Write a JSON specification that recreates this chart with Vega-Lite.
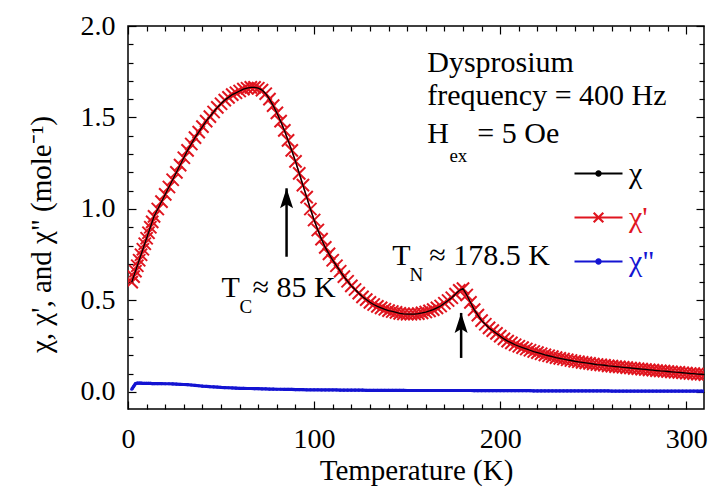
{
"$schema": "https://vega.github.io/schema/vega-lite/v6.json",
"width": 576, "height": 383,
"autosize": {"type": "none"},
"padding": {"left": 128, "top": 26, "right": 6, "bottom": 84},
"background": "white",
"config": {"view": {"stroke": "black", "strokeWidth": 1.5}, "font": "Liberation Serif"},
"datasets": {
"main": [
{"T":2,"chi":0.60,"chi1":0.60,"chi2":0.015},{"T":3,"chi":0.63,"chi1":0.63,"chi2":0.03},{"T":4,"chi":0.66,"chi1":0.66,"chi2":0.045},{"T":5,"chi":0.69,"chi1":0.69,"chi2":0.048},{"T":6,"chi":0.72,"chi1":0.72,"chi2":0.048},{"T":7,"chi":0.75,"chi1":0.75,"chi2":0.048},{"T":8,"chi":0.78,"chi1":0.78,"chi2":0.047},{"T":9,"chi":0.81,"chi1":0.81,"chi2":0.047},{"T":10,"chi":0.84,"chi1":0.84,"chi2":0.047},{"T":11,"chi":0.87,"chi1":0.87,"chi2":0.047},{"T":12,"chi":0.90,"chi1":0.90,"chi2":0.047},{"T":13,"chi":0.93,"chi1":0.93,"chi2":0.046},{"T":14,"chi":0.96,"chi1":0.96,"chi2":0.046},
{"T":16,"chi":1.00,"chi1":1.00,"chi2":0.046},{"T":18,"chi":1.04,"chi1":1.04,"chi2":0.046},{"T":20,"chi":1.08,"chi1":1.08,"chi2":0.045},{"T":22,"chi":1.12,"chi1":1.12,"chi2":0.045},{"T":24,"chi":1.16,"chi1":1.16,"chi2":0.044},{"T":26,"chi":1.20,"chi1":1.20,"chi2":0.043},{"T":28,"chi":1.24,"chi1":1.24,"chi2":0.042},{"T":30,"chi":1.28,"chi1":1.28,"chi2":0.041},{"T":32,"chi":1.32,"chi1":1.32,"chi2":0.04},{"T":34,"chi":1.355,"chi1":1.355,"chi2":0.038},{"T":36,"chi":1.39,"chi1":1.39,"chi2":0.036},{"T":38,"chi":1.42,"chi1":1.42,"chi2":0.034},{"T":40,"chi":1.45,"chi1":1.45,"chi2":0.032},{"T":42,"chi":1.48,"chi1":1.48,"chi2":0.031},{"T":44,"chi":1.505,"chi1":1.505,"chi2":0.029},{"T":46,"chi":1.53,"chi1":1.53,"chi2":0.028},{"T":48,"chi":1.555,"chi1":1.555,"chi2":0.027},{"T":50,"chi":1.575,"chi1":1.575,"chi2":0.025},{"T":52,"chi":1.595,"chi1":1.595,"chi2":0.024},{"T":54,"chi":1.61,"chi1":1.61,"chi2":0.023},{"T":56,"chi":1.625,"chi1":1.625,"chi2":0.022},{"T":58,"chi":1.635,"chi1":1.635,"chi2":0.021},{"T":60,"chi":1.645,"chi1":1.645,"chi2":0.02},{"T":62,"chi":1.655,"chi1":1.655,"chi2":0.02},{"T":64,"chi":1.66,"chi1":1.66,"chi2":0.019},{"T":66,"chi":1.665,"chi1":1.665,"chi2":0.019},{"T":68,"chi":1.665,"chi1":1.665,"chi2":0.018},{"T":70,"chi":1.66,"chi1":1.66,"chi2":0.018},{"T":72,"chi":1.65,"chi1":1.65,"chi2":0.017},{"T":74,"chi":1.63,"chi1":1.63,"chi2":0.017},{"T":76,"chi":1.60,"chi1":1.60,"chi2":0.016},{"T":78,"chi":1.565,"chi1":1.565,"chi2":0.016},{"T":80,"chi":1.525,"chi1":1.525,"chi2":0.015},{"T":82,"chi":1.48,"chi1":1.48,"chi2":0.015},{"T":84,"chi":1.43,"chi1":1.43,"chi2":0.014},{"T":86,"chi":1.375,"chi1":1.375,"chi2":0.014},{"T":88,"chi":1.32,"chi1":1.32,"chi2":0.014},{"T":90,"chi":1.26,"chi1":1.26,"chi2":0.013},{"T":92,"chi":1.195,"chi1":1.195,"chi2":0.013},{"T":94,"chi":1.13,"chi1":1.13,"chi2":0.013},{"T":96,"chi":1.065,"chi1":1.065,"chi2":0.012},{"T":98,"chi":1.00,"chi1":1.00,"chi2":0.012},{"T":100,"chi":0.94,"chi1":0.94,"chi2":0.012},{"T":102,"chi":0.885,"chi1":0.885,"chi2":0.012},{"T":104,"chi":0.835,"chi1":0.835,"chi2":0.011},{"T":106,"chi":0.79,"chi1":0.79,"chi2":0.011},{"T":108,"chi":0.755,"chi1":0.755,"chi2":0.011},{"T":110,"chi":0.72,"chi1":0.72,"chi2":0.011},{"T":112,"chi":0.69,"chi1":0.69,"chi2":0.011},{"T":114,"chi":0.66,"chi1":0.66,"chi2":0.01},{"T":116,"chi":0.63,"chi1":0.63,"chi2":0.01},{"T":118,"chi":0.605,"chi1":0.605,"chi2":0.01},{"T":120,"chi":0.58,"chi1":0.58,"chi2":0.01},{"T":122,"chi":0.56,"chi1":0.56,"chi2":0.01},{"T":124,"chi":0.54,"chi1":0.54,"chi2":0.01},{"T":126,"chi":0.52,"chi1":0.52,"chi2":0.01},{"T":128,"chi":0.505,"chi1":0.505,"chi2":0.009},{"T":130,"chi":0.49,"chi1":0.49,"chi2":0.009},{"T":132,"chi":0.478,"chi1":0.478,"chi2":0.009},{"T":134,"chi":0.468,"chi1":0.468,"chi2":0.009},{"T":136,"chi":0.46,"chi1":0.46,"chi2":0.009},{"T":138,"chi":0.452,"chi1":0.452,"chi2":0.009},{"T":140,"chi":0.445,"chi1":0.445,"chi2":0.009},{"T":142,"chi":0.44,"chi1":0.44,"chi2":0.009},{"T":144,"chi":0.435,"chi1":0.435,"chi2":0.009},{"T":146,"chi":0.43,"chi1":0.43,"chi2":0.009},{"T":148,"chi":0.427,"chi1":0.427,"chi2":0.009},{"T":150,"chi":0.425,"chi1":0.425,"chi2":0.008},{"T":152,"chi":0.425,"chi1":0.425,"chi2":0.008},{"T":154,"chi":0.426,"chi1":0.426,"chi2":0.008},{"T":156,"chi":0.428,"chi1":0.428,"chi2":0.008},{"T":158,"chi":0.432,"chi1":0.432,"chi2":0.008},{"T":160,"chi":0.437,"chi1":0.437,"chi2":0.008},{"T":162,"chi":0.443,"chi1":0.443,"chi2":0.008},{"T":164,"chi":0.45,"chi1":0.45,"chi2":0.008},{"T":166,"chi":0.46,"chi1":0.46,"chi2":0.008},{"T":168,"chi":0.47,"chi1":0.47,"chi2":0.008},{"T":170,"chi":0.485,"chi1":0.485,"chi2":0.008},{"T":172,"chi":0.50,"chi1":0.50,"chi2":0.008},{"T":174,"chi":0.515,"chi1":0.515,"chi2":0.008},{"T":176,"chi":0.535,"chi1":0.535,"chi2":0.008},{"T":178,"chi":0.555,"chi1":0.555,"chi2":0.008},{"T":180,"chi":0.565,"chi1":0.565,"chi2":0.008},{"T":182,"chi":0.53,"chi1":0.53,"chi2":0.008},{"T":184,"chi":0.49,"chi1":0.49,"chi2":0.008},{"T":186,"chi":0.45,"chi1":0.45,"chi2":0.007},{"T":188,"chi":0.42,"chi1":0.42,"chi2":0.007},{"T":190,"chi":0.39,"chi1":0.39,"chi2":0.007},{"T":192,"chi":0.37,"chi1":0.37,"chi2":0.007},{"T":194,"chi":0.35,"chi1":0.35,"chi2":0.007},{"T":196,"chi":0.335,"chi1":0.335,"chi2":0.007},{"T":198,"chi":0.32,"chi1":0.32,"chi2":0.007},{"T":200,"chi":0.305,"chi1":0.305,"chi2":0.007},{"T":202,"chi":0.29,"chi1":0.29,"chi2":0.007},{"T":204,"chi":0.278,"chi1":0.278,"chi2":0.007},{"T":206,"chi":0.268,"chi1":0.268,"chi2":0.007},{"T":208,"chi":0.258,"chi1":0.258,"chi2":0.007},{"T":210,"chi":0.25,"chi1":0.25,"chi2":0.007},{"T":212,"chi":0.242,"chi1":0.242,"chi2":0.007},{"T":214,"chi":0.235,"chi1":0.235,"chi2":0.007},{"T":216,"chi":0.228,"chi1":0.228,"chi2":0.007},{"T":218,"chi":0.221,"chi1":0.221,"chi2":0.006},{"T":220,"chi":0.215,"chi1":0.215,"chi2":0.006},{"T":222,"chi":0.209,"chi1":0.209,"chi2":0.006},{"T":224,"chi":0.203,"chi1":0.203,"chi2":0.006},{"T":226,"chi":0.198,"chi1":0.198,"chi2":0.006},{"T":228,"chi":0.193,"chi1":0.193,"chi2":0.006},{"T":230,"chi":0.188,"chi1":0.188,"chi2":0.006},{"T":232,"chi":0.184,"chi1":0.184,"chi2":0.006},{"T":234,"chi":0.18,"chi1":0.18,"chi2":0.006},{"T":236,"chi":0.176,"chi1":0.176,"chi2":0.006},{"T":238,"chi":0.172,"chi1":0.172,"chi2":0.006},{"T":240,"chi":0.168,"chi1":0.168,"chi2":0.006},{"T":242,"chi":0.165,"chi1":0.165,"chi2":0.006},{"T":244,"chi":0.162,"chi1":0.162,"chi2":0.006},{"T":246,"chi":0.159,"chi1":0.159,"chi2":0.006},{"T":248,"chi":0.156,"chi1":0.156,"chi2":0.006},{"T":250,"chi":0.153,"chi1":0.153,"chi2":0.006},{"T":252,"chi":0.15,"chi1":0.15,"chi2":0.006},{"T":254,"chi":0.148,"chi1":0.148,"chi2":0.006},{"T":256,"chi":0.146,"chi1":0.146,"chi2":0.006},{"T":258,"chi":0.143,"chi1":0.143,"chi2":0.006},{"T":260,"chi":0.141,"chi1":0.141,"chi2":0.005},{"T":262,"chi":0.139,"chi1":0.139,"chi2":0.005},{"T":264,"chi":0.137,"chi1":0.137,"chi2":0.005},{"T":266,"chi":0.135,"chi1":0.135,"chi2":0.005},{"T":268,"chi":0.133,"chi1":0.133,"chi2":0.005},{"T":270,"chi":0.131,"chi1":0.131,"chi2":0.005},{"T":272,"chi":0.129,"chi1":0.129,"chi2":0.005},{"T":274,"chi":0.127,"chi1":0.127,"chi2":0.005},{"T":276,"chi":0.125,"chi1":0.125,"chi2":0.005},{"T":278,"chi":0.123,"chi1":0.123,"chi2":0.005},{"T":280,"chi":0.121,"chi1":0.121,"chi2":0.005},{"T":282,"chi":0.119,"chi1":0.119,"chi2":0.005},{"T":284,"chi":0.117,"chi1":0.117,"chi2":0.005},{"T":286,"chi":0.115,"chi1":0.115,"chi2":0.005},{"T":288,"chi":0.114,"chi1":0.114,"chi2":0.005},{"T":290,"chi":0.112,"chi1":0.112,"chi2":0.005},{"T":292,"chi":0.11,"chi1":0.11,"chi2":0.005},{"T":294,"chi":0.108,"chi1":0.108,"chi2":0.005},{"T":296,"chi":0.107,"chi1":0.107,"chi2":0.005},{"T":298,"chi":0.105,"chi1":0.105,"chi2":0.005},{"T":300,"chi":0.103,"chi1":0.103,"chi2":0.005},{"T":302,"chi":0.101,"chi1":0.101,"chi2":0.005},{"T":304,"chi":0.1,"chi1":0.1,"chi2":0.005},{"T":306,"chi":0.098,"chi1":0.098,"chi2":0.005},{"T":308,"chi":0.097,"chi1":0.097,"chi2":0.005},{"T":310,"chi":0.095,"chi1":0.095,"chi2":0.005}
],
"big": [
{"T":160.8,"v":1.749,"label":"Dysprosium"},
{"T":160.8,"v":1.568,"label":"frequency = 400 Hz"},
{"T":160.8,"v":1.361,"label":"H"},
{"T":187.7,"v":1.361,"label":"= 5 Oe"},
{"T":50.2,"v":0.519,"label":"T"},
{"T":66.9,"v":0.519,"label":"≈ 85 K"},
{"T":142.0,"v":0.694,"label":"T"},
{"T":161.9,"v":0.694,"label":"≈ 178.5 K"}
],
"small": [
{"T":172.7,"v":1.257,"label":"ex"},
{"T":59.9,"v":0.432,"label":"C"},
{"T":151.2,"v":0.607,"label":"N"}
],
"arrows": [
{"T":85.2,"tail":0.739,"tip":1.113},
{"T":179.0,"tail":0.186,"tip":0.432}
]
},
"resolve": {"axis": {"x": "independent", "y": "independent"}},
"layer": [
{
"data": {"name": "main"},
"mark": {"type": "line", "strokeWidth": 3.2, "clip": true},
"encoding": {
"x": {"field": "T", "type": "quantitative", "scale": {"domain": [0, 309.5], "nice": false, "zero": false},
"axis": {"orient": "bottom", "values": [0,10,20,30,40,50,60,70,80,90,100,110,120,130,140,150,160,170,180,190,200,210,220,230,240,250,260,270,280,290,300],
"tickSize": {"condition": {"test": "datum.value % 100 === 0", "value": -8}, "value": -5},
"labelExpr": "datum.value % 100 === 0 ? datum.label : ''", "labelOverlap": false, "labelFlush": false, "labelBound": false,
"labelPadding": 24, "labelFont": "Liberation Serif", "labelFontSize": 28, "labelColor": "black",
"tickColor": "black", "tickWidth": 1.2, "domain": false, "grid": false,
"title": "Temperature (K)", "titleFont": "Liberation Serif", "titleFontSize": 29, "titleFontWeight": "normal", "titleColor": "black",
"titleBaseline": "alphabetic", "titleX": 288, "titleY": 70, "titleAlign": "center"}},
"y": {"field": "chi2", "type": "quantitative", "scale": {"domain": [-0.093, 2.0], "nice": false, "zero": false},
"axis": {"orient": "left", "values": [0,0.1,0.2,0.3,0.4,0.5,0.6,0.7,0.8,0.9,1.0,1.1,1.2,1.3,1.4,1.5,1.6,1.7,1.8,1.9,2.0],
"tickSize": {"condition": {"test": "datum.value % 0.5 === 0", "value": -8}, "value": -5},
"labelExpr": "datum.value % 0.5 === 0 ? format(datum.value, '.1f') : ''", "labelOverlap": false, "labelFlush": false, "labelBound": false,
"labelPadding": 21, "labelFont": "Liberation Serif", "labelFontSize": 28, "labelColor": "black", "labelBaseline": "middle",
"tickColor": "black", "tickWidth": 1.2, "domain": false, "grid": false,
"title": "χ, χ', and χ\" (mole⁻¹)", "titleFont": "Liberation Serif", "titleFontSize": 29, "titleFontWeight": "normal", "titleColor": "black",
"titleAngle": -90, "titleBaseline": "alphabetic", "titleAlign": "center", "titleX": -78, "titleY": 208}},
"color": {"datum": "χ\"", "type": "nominal",
"scale": {"domain": ["χ", "χ'", "χ\""], "range": ["black", "#e0151f", "#1414d2"]},
"legend": {"orient": "none", "legendX": 445, "legendY": 122, "title": null, "padding": 0,
"symbolType": {"expr": "datum.value === \"χ'\" ? 'M-1,0H1M-0.2,-0.2L0.2,0.2M-0.2,0.2L0.2,-0.2' : 'M-1,0H1M-0.09,0A0.09,0.09 0 1,0 0.09,0A0.09,0.09 0 1,0 -0.09,0'"},
"symbolSize": 2304, "symbolStrokeWidth": 2.2,
"symbolFillColor": {"expr": "scale('color', datum.value)"},
"labelFont": "Liberation Serif", "labelFontSize": 30,
"labelColor": {"expr": "scale('color', datum.value)"},
"labelOffset": 5, "rowPadding": 3}}
}
},
{
"data": {"name": "main"},
"mark": {"type": "point", "filled": true, "size": 10, "clip": true, "opacity": 1},
"encoding": {
"x": {"field": "T", "type": "quantitative", "scale": {"domain": [0, 309.5], "nice": false, "zero": false}, "axis": null},
"y": {"field": "chi2", "type": "quantitative", "scale": {"domain": [-0.093, 2.0], "nice": false, "zero": false}, "axis": null},
"color": {"datum": "χ\"", "type": "nominal", "legend": null}
}
},
{
"data": {"name": "main"},
"mark": {"type": "line", "strokeWidth": 1.5, "clip": true},
"encoding": {
"x": {"field": "T", "type": "quantitative", "scale": {"domain": [0, 309.5], "nice": false, "zero": false}, "axis": null},
"y": {"field": "chi1", "type": "quantitative", "scale": {"domain": [-0.093, 2.0], "nice": false, "zero": false}, "axis": null},
"color": {"datum": "χ'", "type": "nominal", "legend": null}
}
},
{
"data": {"name": "main"},
"mark": {"type": "point", "shape": "M-1,-1L1,1M-1,1L1,-1", "filled": false, "size": 150, "strokeWidth": 2, "opacity": 1, "clip": true},
"encoding": {
"x": {"field": "T", "type": "quantitative", "scale": {"domain": [0, 309.5], "nice": false, "zero": false}, "axis": null},
"y": {"field": "chi1", "type": "quantitative", "scale": {"domain": [-0.093, 2.0], "nice": false, "zero": false}, "axis": null},
"color": {"datum": "χ'", "type": "nominal", "legend": null}
}
},
{
"data": {"name": "main"},
"mark": {"type": "line", "strokeWidth": 1.3, "clip": true},
"encoding": {
"x": {"field": "T", "type": "quantitative", "scale": {"domain": [0, 309.5], "nice": false, "zero": false},
"axis": {"orient": "top", "values": [0,10,20,30,40,50,60,70,80,90,100,110,120,130,140,150,160,170,180,190,200,210,220,230,240,250,260,270,280,290,300],
"tickSize": {"condition": {"test": "datum.value % 100 === 0", "value": -8}, "value": -5},
"labels": false, "title": null, "tickColor": "black", "tickWidth": 1.2, "domain": false, "grid": false}},
"y": {"field": "chi", "type": "quantitative", "scale": {"domain": [-0.093, 2.0], "nice": false, "zero": false},
"axis": {"orient": "right", "values": [0,0.1,0.2,0.3,0.4,0.5,0.6,0.7,0.8,0.9,1.0,1.1,1.2,1.3,1.4,1.5,1.6,1.7,1.8,1.9,2.0],
"tickSize": {"condition": {"test": "datum.value % 0.5 === 0", "value": -8}, "value": -5},
"labels": false, "title": null, "tickColor": "black", "tickWidth": 1.2, "domain": false, "grid": false}},
"color": {"datum": "χ", "type": "nominal", "legend": null}
}
},
{
"data": {"name": "arrows"},
"mark": {"type": "rule", "color": "black", "strokeWidth": 2.5},
"encoding": {
"x": {"field": "T", "type": "quantitative", "scale": {"domain": [0, 309.5], "nice": false, "zero": false}, "axis": null},
"y": {"field": "tail", "type": "quantitative", "scale": {"domain": [-0.093, 2.0], "nice": false, "zero": false}, "axis": null},
"y2": {"field": "tip"}
}
},
{
"data": {"name": "arrows"},
"mark": {"type": "point", "shape": "M0,0L1.3,4L0,3.2L-1.3,4Z", "filled": true, "size": 100, "color": "black", "opacity": 1, "strokeWidth": 0},
"encoding": {
"x": {"field": "T", "type": "quantitative", "scale": {"domain": [0, 309.5], "nice": false, "zero": false}, "axis": null},
"y": {"field": "tip", "type": "quantitative", "scale": {"domain": [-0.093, 2.0], "nice": false, "zero": false}, "axis": null}
}
},
{
"data": {"name": "big"},
"mark": {"type": "text", "align": "left", "baseline": "alphabetic", "font": "Liberation Serif", "fontSize": 30, "color": "black"},
"encoding": {
"x": {"field": "T", "type": "quantitative", "scale": {"domain": [0, 309.5], "nice": false, "zero": false}, "axis": null},
"y": {"field": "v", "type": "quantitative", "scale": {"domain": [-0.093, 2.0], "nice": false, "zero": false}, "axis": null},
"text": {"field": "label"}
}
},
{
"data": {"name": "small"},
"mark": {"type": "text", "align": "left", "baseline": "alphabetic", "font": "Liberation Serif", "fontSize": 19, "color": "black"},
"encoding": {
"x": {"field": "T", "type": "quantitative", "scale": {"domain": [0, 309.5], "nice": false, "zero": false}, "axis": null},
"y": {"field": "v", "type": "quantitative", "scale": {"domain": [-0.093, 2.0], "nice": false, "zero": false}, "axis": null},
"text": {"field": "label"}
}
}
]
}
